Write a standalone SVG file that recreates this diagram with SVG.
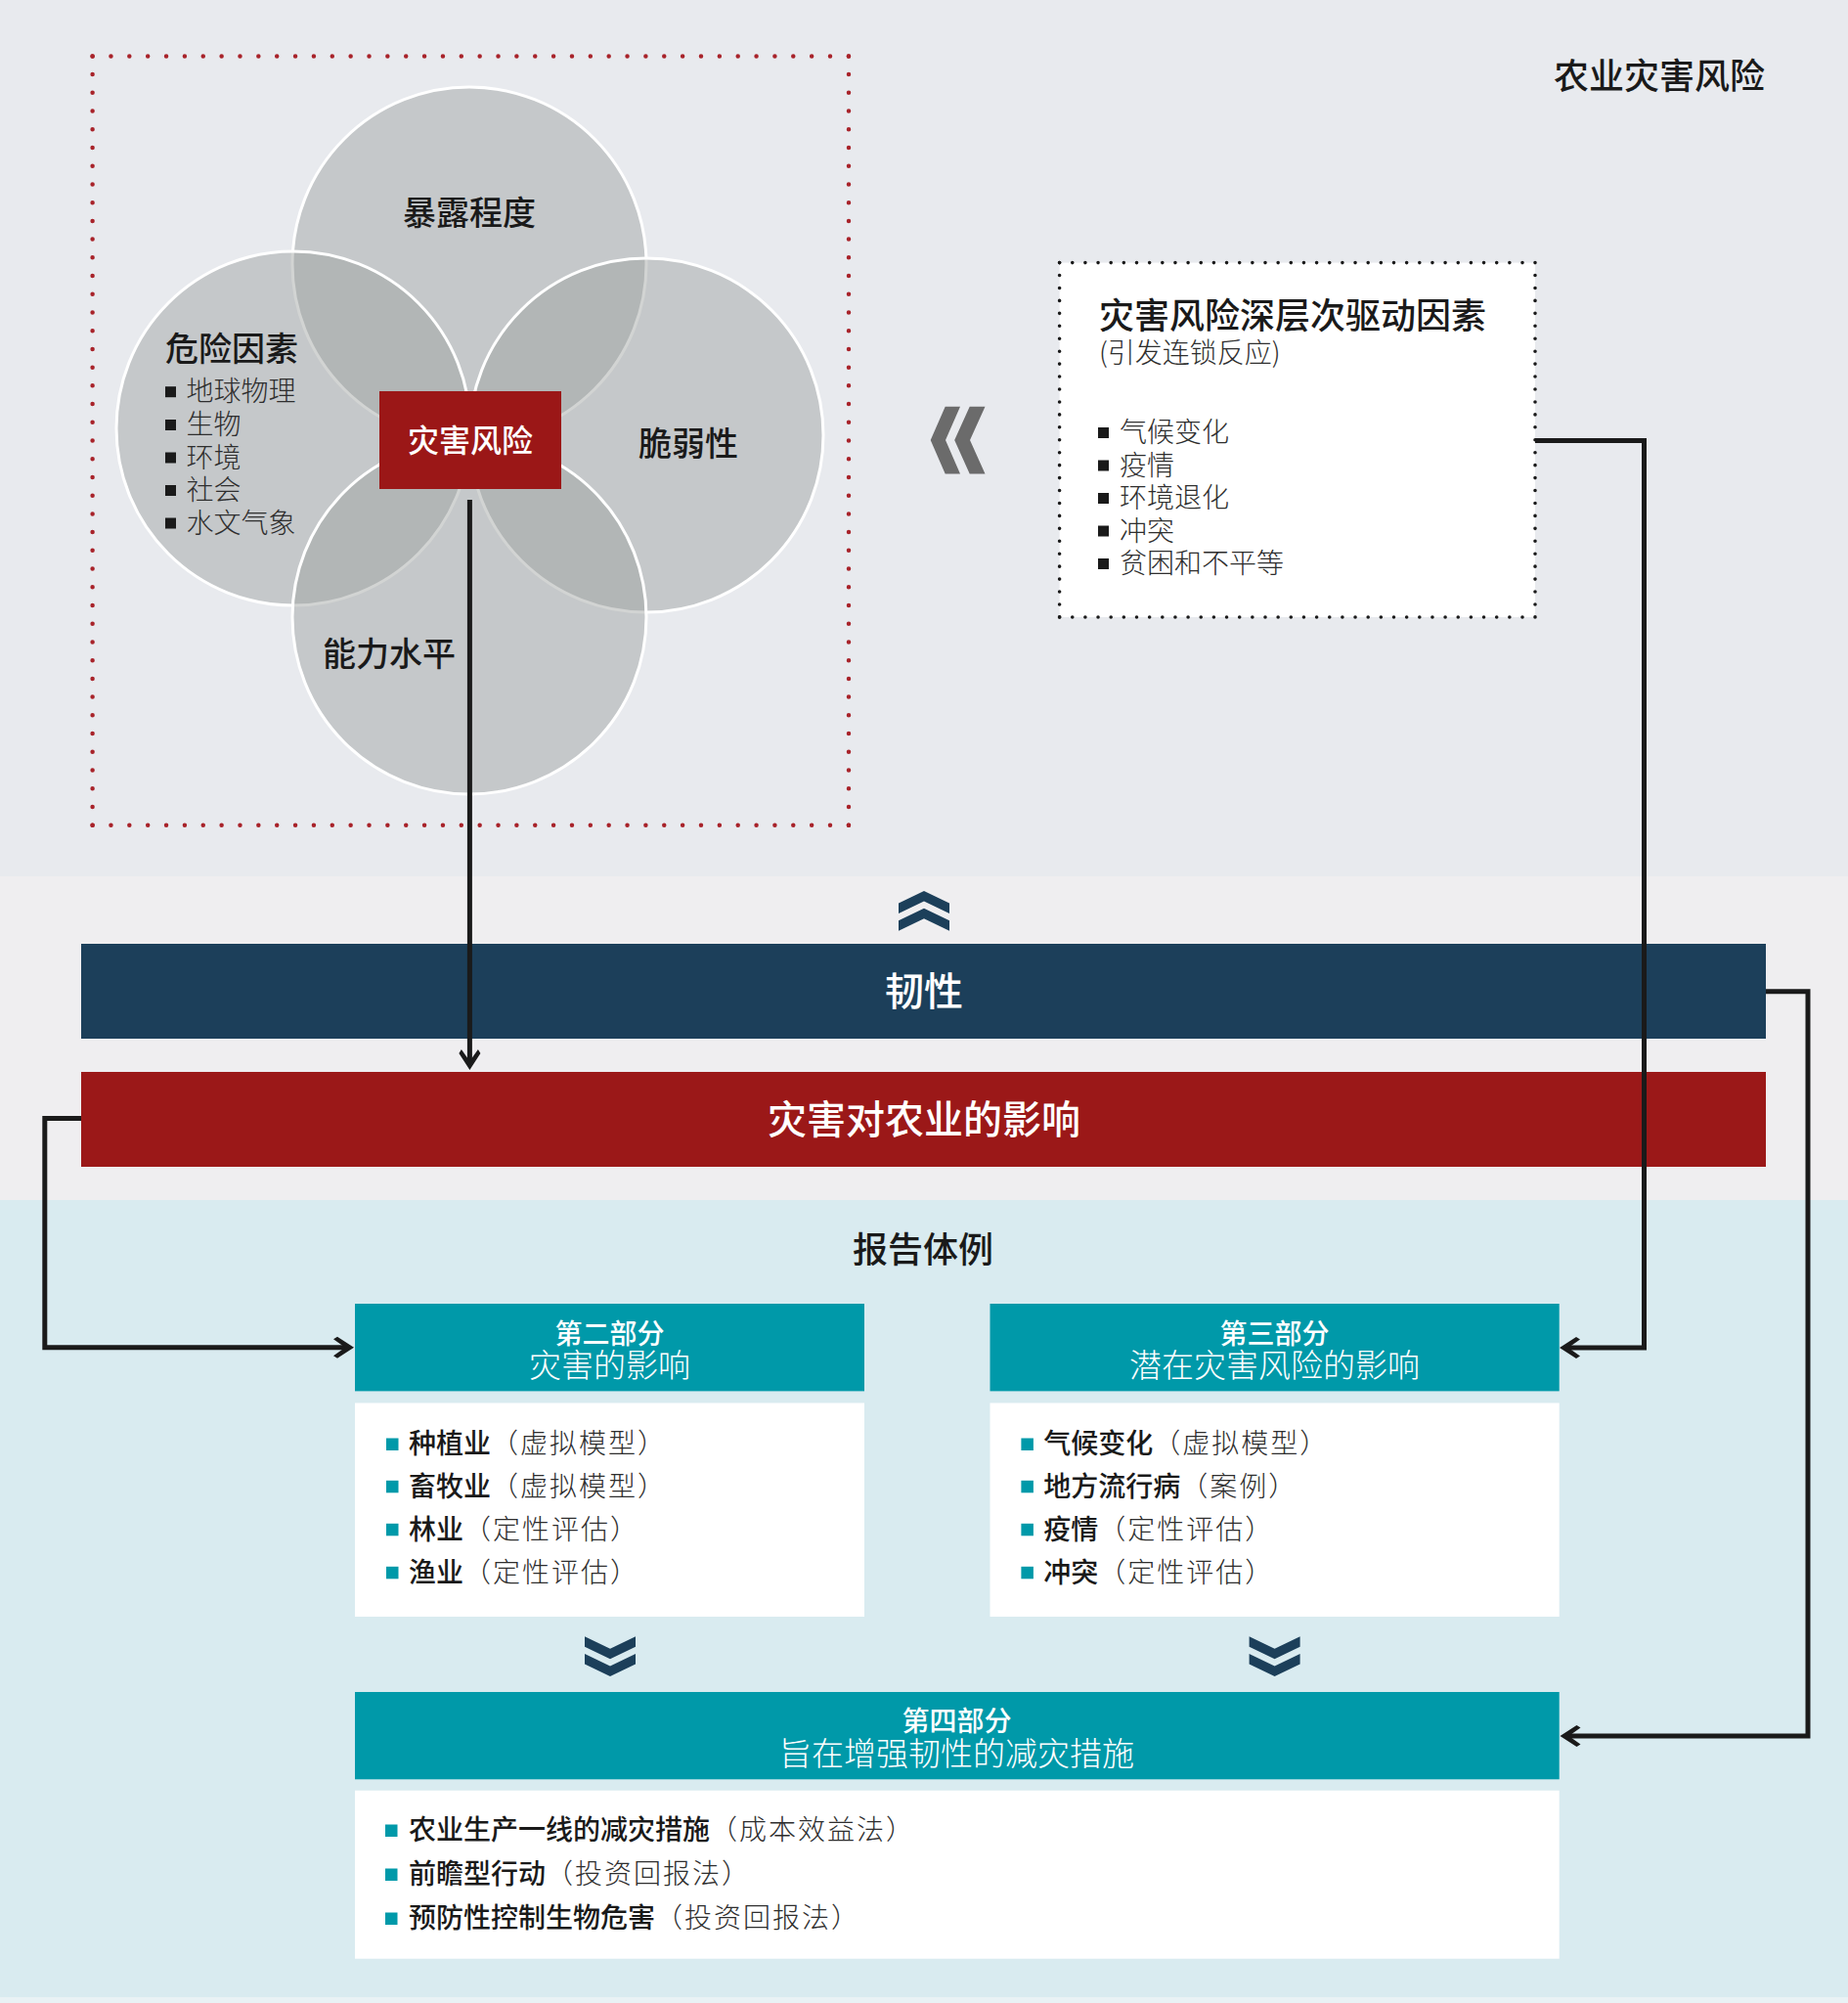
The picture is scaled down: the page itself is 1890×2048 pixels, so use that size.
<svg xmlns="http://www.w3.org/2000/svg" width="1890" height="2048" viewBox="0 0 1890 2048">
<style>
text{font-family:"Noto Sans CJK SC","Noto Sans",sans-serif;dominant-baseline:central;transform:translateY(-2.5px)}
.ttl{font-size:34px;fill:#1a1a1a;font-weight:500}
.li{font-size:28px;fill:#2e2e2e;font-weight:300}
.wh{fill:#ffffff;font-weight:500}
.hd1{font-size:28px;fill:#ffffff;font-weight:500;text-anchor:middle}
.hd2{font-size:33px;fill:#ffffff;font-weight:300;text-anchor:middle}
.bl{font-size:28px}
.bk{fill:#1a1a1a;font-weight:500}
.lt{fill:#2e2e2e;font-weight:300;letter-spacing:2px}
.circ{fill:#9ba09d;fill-opacity:0.45;stroke:#ffffff;stroke-width:3}
.conn{fill:none;stroke:#1a1a1a;stroke-width:5;stroke-linejoin:miter}
.rdot{stroke:#a8232a;stroke-width:4.5;stroke-linecap:round;fill:none}
.kdot{stroke:#1a1a1a;stroke-width:3.6;stroke-linecap:round;fill:none}
.teal{fill:#0099a9}
</style>
<defs>
<path id="chev" d="M-26,0 L0,12.4 L26,0 L26,10.5 L0,22.9 L-26,10.5 Z M-26,17.8 L0,30.2 L26,17.8 L26,28.3 L0,40.7 L-26,28.3 Z" fill="#1c3f5a"/>
<marker id="ah" viewBox="-22 -13 28 26" markerWidth="28" markerHeight="26" refX="-6" refY="0" orient="auto" markerUnits="userSpaceOnUse">
<path d="M0,0 L-17,-11 L-21,-8.5 L-9,0 L-21,8.5 L-17,11 Z" fill="#1a1a1a"/>
</marker>
</defs>

<g id="background">
<rect x="0" y="0" width="1890" height="896" fill="#e8eaee"/>
<rect x="0" y="896" width="1890" height="331" fill="#efeef0"/>
<rect x="0" y="1227" width="1890" height="821" fill="#d9ebf0"/>
<rect x="0" y="2042" width="1890" height="6" fill="#e9f2f5"/>
</g>

<g id="title">
<text x="1589" y="77" style="font-size:36px;fill:#1a1a1a;font-weight:500">农业灾害风险</text>
</g>

<g id="risk-frame">
<path class="rdot" d="M94.6,57.4 H868" stroke-dasharray="0 18.86"/>
<path class="rdot" d="M94.6,843.8 H868" stroke-dasharray="0 18.86"/>
<path class="rdot" d="M94.6,57.4 V843.8" stroke-dasharray="0 18.72"/>
<path class="rdot" d="M868,57.4 V843.8" stroke-dasharray="0 18.72"/>
</g>

<g id="circles">
<circle class="circ" cx="480" cy="270" r="181"/>
<circle class="circ" cx="300" cy="438" r="181"/>
<circle class="circ" cx="661" cy="445" r="181"/>
<circle class="circ" cx="480" cy="631" r="181"/>
</g>

<g id="node-exposure">
<text x="480" y="218" class="ttl" text-anchor="middle">暴露程度</text>
</g>
<g id="node-hazard">
<text x="169" y="357" class="ttl">危险因素</text>
<rect x="169" y="395.2" width="11" height="11" fill="#1a1a1a"/>
<rect x="169" y="429" width="11" height="11" fill="#1a1a1a"/>
<rect x="169" y="462.5" width="11" height="11" fill="#1a1a1a"/>
<rect x="169" y="496" width="11" height="11" fill="#1a1a1a"/>
<rect x="169" y="529.5" width="11" height="11" fill="#1a1a1a"/>
<text x="190.5" y="400.7" class="li">地球物理</text>
<text x="190.5" y="434.5" class="li">生物</text>
<text x="190.5" y="468" class="li">环境</text>
<text x="190.5" y="501.5" class="li">社会</text>
<text x="190.5" y="535" class="li">水文气象</text>
</g>
<g id="node-vulnerability">
<text x="704" y="454" class="ttl" text-anchor="middle">脆弱性</text>
</g>
<g id="node-capacity">
<text x="330" y="669" class="ttl">能力水平</text>
</g>
<g id="node-risk">
<rect x="388" y="400" width="186" height="100" fill="#9b1717"/>
<text x="481" y="450" class="wh" style="font-size:32px" text-anchor="middle">灾害风险</text>
</g>

<g id="drivers-chevron">
<path d="M966.7,415.7 L982,415.7 L967,450 L982,484.5 L966.7,484.5 L951.7,450 Z M991.7,415.7 L1007.5,415.7 L992,450 L1007.5,484.5 L991.7,484.5 L976.2,450 Z" fill="#6b6b6b"/>
</g>

<g id="node-drivers">
<rect x="1083.6" y="268.6" width="486.4" height="362.4" fill="#ffffff"/>
<path class="kdot" d="M1083.6,268.6 H1570" stroke-dasharray="0 13.15"/>
<path class="kdot" d="M1083.6,631 H1570" stroke-dasharray="0 13.15"/>
<path class="kdot" d="M1083.6,268.6 V631" stroke-dasharray="0 12.94"/>
<path class="kdot" d="M1570,268.6 V631" stroke-dasharray="0 12.94"/>
<text x="1124" y="322.6" style="font-size:36px;fill:#1a1a1a;font-weight:500">灾害风险深层次驱动因素</text>
<text x="1124" y="361.6" class="li">(引发连锁反应)</text>
<rect x="1123" y="437" width="11" height="11" fill="#1a1a1a"/>
<rect x="1123" y="470.5" width="11" height="11" fill="#1a1a1a"/>
<rect x="1123" y="504" width="11" height="11" fill="#1a1a1a"/>
<rect x="1123" y="537.5" width="11" height="11" fill="#1a1a1a"/>
<rect x="1123" y="571" width="11" height="11" fill="#1a1a1a"/>
<text x="1145" y="442.5" class="li">气候变化</text>
<text x="1145" y="476" class="li">疫情</text>
<text x="1145" y="509.5" class="li">环境退化</text>
<text x="1145" y="543" class="li">冲突</text>
<text x="1145" y="576.5" class="li">贫困和不平等</text>
</g>

<g id="node-resilience">
<use href="#chev" transform="translate(945,951.7) scale(1,-1)"/>
<rect x="83" y="965" width="1723" height="97" fill="#1c3f5a"/>
<text x="945" y="1013" class="wh" style="font-size:40px" text-anchor="middle">韧性</text>
</g>

<g id="node-impact">
<rect x="83" y="1096" width="1723" height="97" fill="#9b1818"/>
<text x="945" y="1144" class="wh" style="font-size:40px" text-anchor="middle">灾害对农业的影响</text>
</g>

<g id="report-title">
<text x="944" y="1277" style="font-size:36px;fill:#1a1a1a;font-weight:500" text-anchor="middle">报告体例</text>
</g>

<g id="node-part2">
<rect class="teal" x="363" y="1333" width="521" height="89.4"/>
<text x="623.5" y="1364" class="hd1">第二部分</text>
<text x="623.5" y="1396.5" class="hd2">灾害的影响</text>
<rect x="363" y="1434.5" width="521" height="218.5" fill="#ffffff"/>
<rect class="teal" x="395" y="1470.5" width="12.5" height="12.5"/>
<rect class="teal" x="395" y="1513.8" width="12.5" height="12.5"/>
<rect class="teal" x="395" y="1557.8" width="12.5" height="12.5"/>
<rect class="teal" x="395" y="1601.8" width="12.5" height="12.5"/>
<text x="418" y="1476.7" class="bl"><tspan class="bk">种植业</tspan><tspan class="lt">（虚拟模型）</tspan></text>
<text x="418" y="1520" class="bl"><tspan class="bk">畜牧业</tspan><tspan class="lt">（虚拟模型）</tspan></text>
<text x="418" y="1564" class="bl"><tspan class="bk">林业</tspan><tspan class="lt">（定性评估）</tspan></text>
<text x="418" y="1608" class="bl"><tspan class="bk">渔业</tspan><tspan class="lt">（定性评估）</tspan></text>
<use href="#chev" transform="translate(624,1673.3)"/>
</g>

<g id="node-part3">
<rect class="teal" x="1012.5" y="1333" width="582.2" height="89.4"/>
<text x="1303.6" y="1364" class="hd1">第三部分</text>
<text x="1303.6" y="1396.5" class="hd2">潜在灾害风险的影响</text>
<rect x="1012.5" y="1434.5" width="582.2" height="218.5" fill="#ffffff"/>
<rect class="teal" x="1044.4" y="1470.5" width="12.5" height="12.5"/>
<rect class="teal" x="1044.4" y="1513.8" width="12.5" height="12.5"/>
<rect class="teal" x="1044.4" y="1557.8" width="12.5" height="12.5"/>
<rect class="teal" x="1044.4" y="1601.8" width="12.5" height="12.5"/>
<text x="1067.3" y="1476.7" class="bl"><tspan class="bk">气候变化</tspan><tspan class="lt">（虚拟模型）</tspan></text>
<text x="1067.3" y="1520" class="bl"><tspan class="bk">地方流行病</tspan><tspan class="lt">（案例）</tspan></text>
<text x="1067.3" y="1564" class="bl"><tspan class="bk">疫情</tspan><tspan class="lt">（定性评估）</tspan></text>
<text x="1067.3" y="1608" class="bl"><tspan class="bk">冲突</tspan><tspan class="lt">（定性评估）</tspan></text>
<use href="#chev" transform="translate(1303.6,1673.3)"/>
</g>

<g id="node-part4">
<rect class="teal" x="363" y="1730" width="1231.7" height="89.3"/>
<text x="978.5" y="1760" class="hd1">第四部分</text>
<text x="978.5" y="1793" class="hd2">旨在增强韧性的减灾措施</text>
<rect x="363" y="1830.7" width="1231.7" height="172" fill="#ffffff"/>
<rect class="teal" x="394" y="1865.5" width="12.5" height="12.5"/>
<rect class="teal" x="394" y="1910.5" width="12.5" height="12.5"/>
<rect class="teal" x="394" y="1955.5" width="12.5" height="12.5"/>
<text x="418" y="1871.7" class="bl"><tspan class="bk">农业生产一线的减灾措施</tspan><tspan class="lt">（成本效益法）</tspan></text>
<text x="418" y="1916.7" class="bl"><tspan class="bk">前瞻型行动</tspan><tspan class="lt">（投资回报法）</tspan></text>
<text x="418" y="1961.7" class="bl"><tspan class="bk">预防性控制生物危害</tspan><tspan class="lt">（投资回报法）</tspan></text>
</g>

<g id="connectors">
<path class="conn" d="M480.4,511 V1088" marker-end="url(#ah)"/>
<path class="conn" d="M1570,450.6 H1681.5 V1378 H1601" marker-end="url(#ah)"/>
<path class="conn" d="M83,1143.4 H45.8 V1377.8 H356" marker-end="url(#ah)"/>
<path class="conn" d="M1806,1013.8 H1849 V1775 H1601.5" marker-end="url(#ah)"/>
</g>
</svg>
